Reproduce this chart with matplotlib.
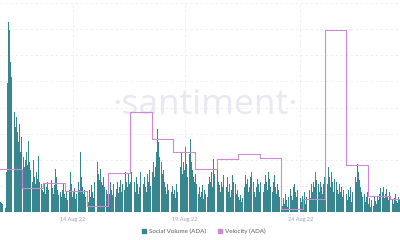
import matplotlib
matplotlib.use("Agg")
import matplotlib.pyplot as plt
import numpy as np
from matplotlib.patches import Patch

# Hourly social volume (ADA)
social_volume = [
    10, 9, 8, 6, 5, 6, 4, 40, 129, 190, 182, 150, 135, 132, 110, 118, 100, 85, 95, 80, 70, 88, 60, 75,
    48, 40, 55, 45, 52, 60, 47, 71, 50, 42, 45, 38, 30, 52, 35, 28, 40, 33, 56, 30, 25, 38, 28, 22,
    20, 28, 18, 25, 30, 22, 15, 26, 20, 32, 24, 18, 27, 43, 35, 22, 17, 25, 30, 20, 15, 22, 28, 18,
    14, 20, 12, 25, 18, 22, 40, 28, 15, 20, 24, 13, 18, 26, 20, 30, 22, 60, 35, 25, 18, 22, 15, 20,
    12, 18, 10, 22, 15, 27, 20, 14, 30, 35, 28, 40, 50, 38, 32, 43, 30, 27, 35, 25, 40, 30, 22, 18,
    25, 18, 30, 22, 17, 28, 20, 26, 15, 23, 30, 19, 25, 32, 20, 28, 48, 35, 22, 40, 30, 25, 38, 28,
    30, 40, 22, 85, 45, 30, 20, 35, 28, 18, 25, 40, 32, 22, 15, 28, 35, 25, 20, 38, 30, 42, 26, 35,
    28, 40, 50, 35, 45, 60, 83, 70, 55, 45, 65, 50, 38, 42, 30, 25, 18, 28, 22, 15, 25, 30, 20, 26,
    18, 22, 14, 28, 20, 25, 40, 55, 45, 60, 38, 50, 42, 65, 48, 35, 52, 40, 58, 73, 50, 42, 35, 30,
    38, 28, 22, 30, 18, 25, 15, 20, 27, 13, 22, 18, 25, 20, 15, 28, 35, 30, 40, 25, 53, 38, 30, 42,
    35, 43, 30, 27, 20, 30, 25, 37, 22, 18, 30, 25, 35, 20, 28, 15, 22, 37, 30, 25, 33, 28, 18, 22,
    15, 12, 17, 10, 14, 22, 30, 25, 37, 28, 33, 20, 25, 35, 40, 28, 22, 30, 20, 15, 25, 33, 28, 20,
    30, 38, 25, 35, 20, 28, 37, 30, 22, 40, 33, 25, 35, 28, 20, 30, 37, 25, 18, 28, 22, 15, 20, 12,
    10, 6, 14, 8, 18, 12, 5, 15, 20, 10, 23, 16, 12, 25, 28, 20, 15, 22, 12, 8, 18, 14, 10, 16,
    12, 20, 8, 15, 25, 18, 10, 22, 14, 28, 20, 30, 25, 40, 32, 22, 35, 28, 20, 30, 25, 18, 28, 35,
    30, 22, 38, 28, 45, 35, 25, 40, 30, 20, 33, 27, 42, 30, 22, 18, 28, 20, 25, 15, 22, 30, 20, 25,
    18, 12, 22, 15, 25, 10, 20, 14, 28, 22, 35, 30, 48, 40, 32, 25, 20, 15, 22, 12, 18, 10, 15, 20,
    8, 14, 5, 12, 17, 10, 6, 15, 11, 8, 16, 12, 18, 24, 15, 22, 20, 25, 14, 18, 23, 16, 12, 20,
    15, 10, 17, 12, 8, 14, 18, 11, 9, 15, 12, 16,
]

# Daily velocity (ADA)
velocity = [0.165, 0.092, 0.111, 0.080, 0.023, 0.149, 0.383, 0.280, 0.230, 0.165,
            0.203, 0.222, 0.207, 0.010, 0.050, 0.697, 0.180, 0.061, 0.050]

tick_labels = ["14 Aug 22", "19 Aug 22", "24 Aug 22"]
tick_hours = [81, 205, 333]

teal = "#38868f"
purple = "#cc8ad6"

fig = plt.figure(figsize=(4, 2.4), dpi=100)
ax = fig.add_axes([0, 28 / 240, 1, 209 / 240])
ax.set_facecolor("none")

hours = np.arange(len(social_volume))
ax.bar(hours, social_volume, width=0.85, align="edge", color=teal, linewidth=0, zorder=2)

ax.set_xlim(0, 443.4)
ax.set_ylim(0, 209)
ax.set_yticks(np.linspace(0, 209, 9))
ax.set_xticks(tick_hours)
ax.set_xticklabels(tick_labels, fontsize=4, color="#9aa3ab", family="Lato")
ax.tick_params(axis="x", length=0, pad=3.5)
ax.tick_params(axis="y", length=0, labelleft=False)
ax.grid(True, color="#ececf0", linestyle=(0, (3, 3)), linewidth=0.6, zorder=0)
for s in ax.spines.values():
    s.set_visible(False)

ax.text(0.512, 0.47, "\u00b7santiment\u00b7", transform=ax.transAxes, ha="center", va="baseline",
        fontsize=25.5, color="#e8e8f1", family="Open Sans", zorder=1)

ax2 = ax.twinx()
vx = np.arange(len(velocity) + 1) * 24
vy = velocity + [velocity[-1]]
ax2.step(vx, vy, where="post", color=purple, linewidth=0.8, zorder=3)
ax2.set_ylim(0, 0.8)
ax2.set_xlim(0, 443.4)
ax2.axis("off")

handles = [Patch(color=teal, label="Social Volume (ADA)"), Patch(color=purple, label="Velocity (ADA)")]
fig.legend(handles=handles, loc="center", bbox_to_anchor=(0.51, 1 - 231 / 240),
           ncol=2, frameon=False, handlelength=0.6, handleheight=0.6,
           handletextpad=0.5, columnspacing=2.0, prop={"family": "Lato", "size": 4.5},
           labelcolor="#555b60")

fig.savefig("out.png", dpi=100)
